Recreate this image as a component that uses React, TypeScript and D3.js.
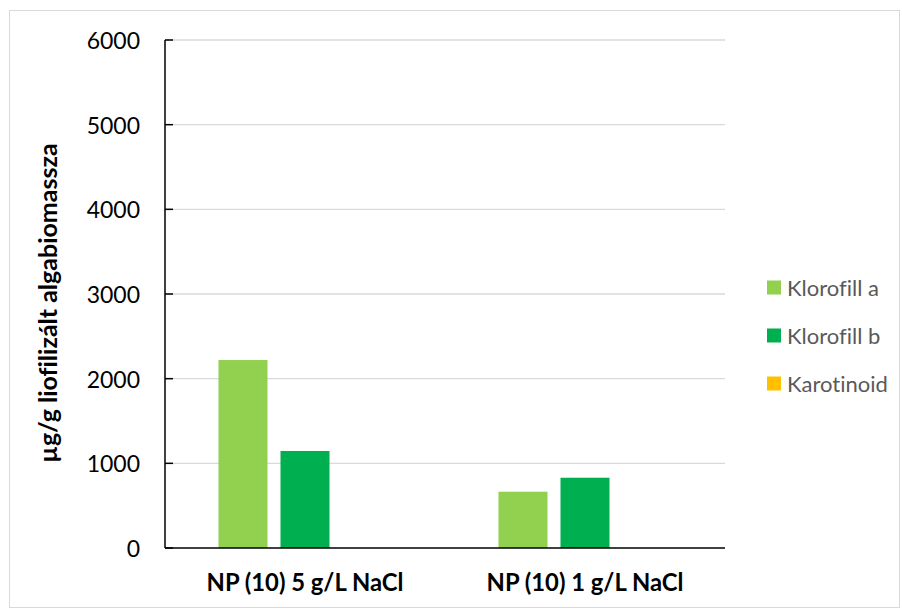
import React from "react";
import * as d3 from "d3";

const categories = ["NP (10) 5 g/L NaCl", "NP (10) 1 g/L NaCl"];
const seriesNames = ["Klorofill a", "Klorofill b", "Karotinoid"];
const seriesColors = ["#92d050", "#00b050", "#ffc000"];
const klorofillA = [2220, 665];
const klorofillB = [1146, 830];
const karotinoid = [0, 0];
const yTicks = [0, 1000, 2000, 3000, 4000, 5000, 6000];

const seriesValues = [klorofillA, klorofillB, karotinoid];

const W = 902;
const H = 610;
const left = 165;
const right = 725;
const top = 40;
const bottom = 548;
const font = "Lato, 'Open Sans', sans-serif";
const noLig = { fontVariantLigatures: "none" as const, fontFeatureSettings: "'liga' 0, 'clig' 0" };

export default function App() {
  const y = d3.scaleLinear().domain([0, 6000]).range([bottom, top]);
  const x0 = d3
    .scaleBand<string>()
    .domain(categories)
    .range([left, right])
    .paddingInner(0.382)
    .paddingOuter(0.191);
  const x1 = d3
    .scaleBand<string>()
    .domain(seriesNames)
    .range([0, x0.bandwidth()])
    .paddingInner(0.2097)
    .paddingOuter(0);

  return (
    <svg
      width={W}
      height={H}
      style={{ position: "absolute", left: 0, top: 0, display: "block", background: "#fff" }}
    >
      <rect x={9.5} y={10.5} width={890} height={597} fill="#fff" stroke="#d9d9d9" strokeWidth={1} />
      {yTicks.map((t) => (
        <g key={t}>
          {t > 0 && (
            <line x1={left} x2={right} y1={y(t)} y2={y(t)} stroke="#d9d9d9" strokeWidth={1.3} />
          )}
          <line x1={left} x2={left + 8} y1={y(t)} y2={y(t)} stroke="#000" strokeWidth={1.5} />
          <text
            x={140}
            y={y(t)}
            textAnchor="end"
            dominantBaseline="central"
            fontFamily={font}
            fontSize={23}
            fill="#000"
          >
            {t}
          </text>
        </g>
      ))}
      {categories.map((c, ci) =>
        seriesNames.map((s, si) => {
          const v = seriesValues[si][ci];
          if (v <= 0) return null;
          return (
            <rect
              key={c + s}
              x={(x0(c) as number) + (x1(s) as number)}
              y={y(v)}
              width={x1.bandwidth()}
              height={y(0) - y(v)}
              fill={seriesColors[si]}
            />
          );
        })
      )}
      <line x1={left} x2={left} y1={top} y2={bottom} stroke="#000" strokeWidth={1.5} />
      <line x1={left} x2={right} y1={bottom} y2={bottom} stroke="#000" strokeWidth={1.5} />
      {categories.map((c) => (
        <text
          key={c}
          x={(x0(c) as number) + x0.bandwidth() / 2}
          y={591}
          textAnchor="middle"
          fontFamily={font}
          fontWeight="bold"
          fontSize={23.8}
          fill="#000"
        >
          {c}
        </text>
      ))}
      <text
        transform={`translate(57, 303) rotate(-90)`}
        textAnchor="middle"
        fontFamily={font}
        fontWeight="bold"
        fontSize={25}
        fill="#000"
        style={noLig}
      >
        µg/g liofilizált algabiomassza
      </text>
      {seriesNames.map((s, i) => (
        <g key={s} transform={`translate(767, ${287.5 + i * 48})`}>
          <rect x={0} y={-7} width={14} height={14} fill={seriesColors[i]} />
          <text
            x={20}
            y={0}
            dominantBaseline="central"
            fontFamily={font}
            fontSize={22}
            fill="#595959"
            style={noLig}
          >
            {s}
          </text>
        </g>
      ))}
    </svg>
  );
}
